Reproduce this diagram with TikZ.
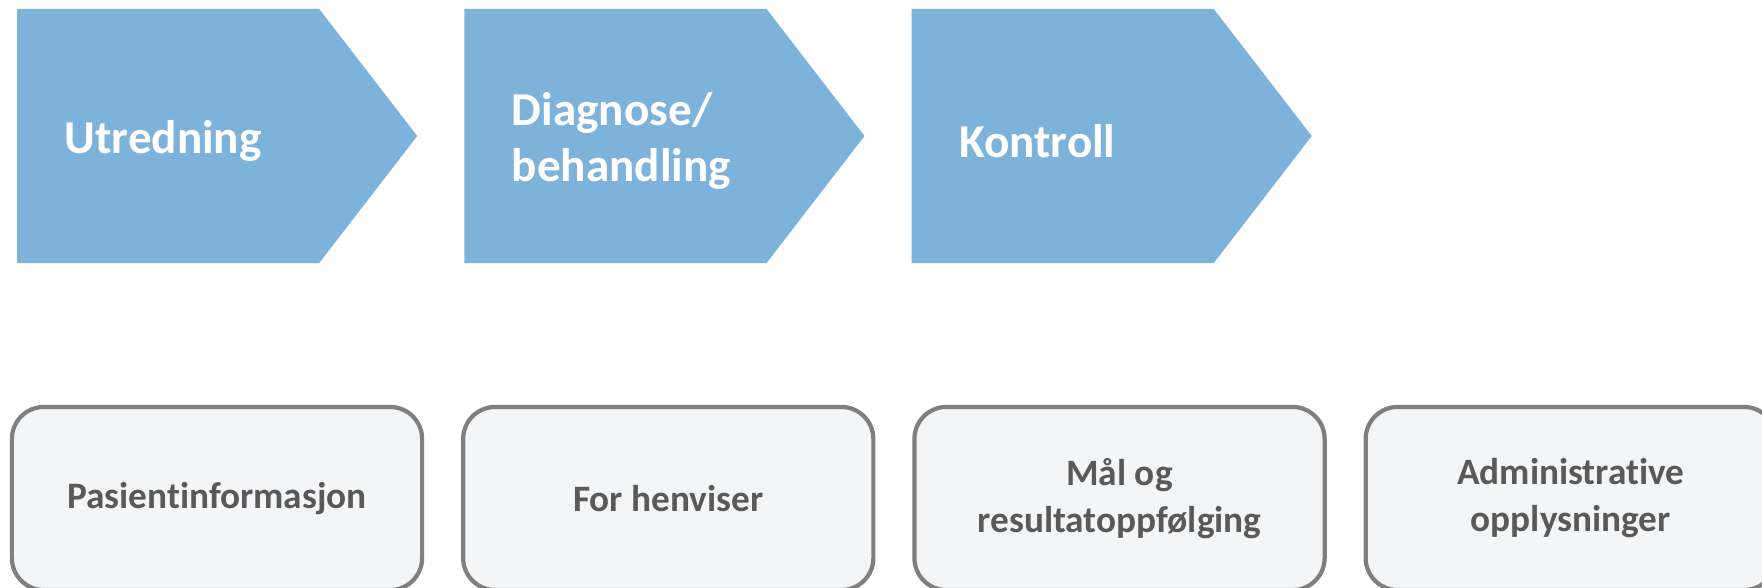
\documentclass[tikz,border=0pt]{standalone}
\usepackage{fontspec}
\setmainfont{Carlito}[Ligatures=NoCommon]
\usetikzlibrary{shapes.symbols,positioning}
\definecolor{phaseblue}{RGB}{125,178,219}
\definecolor{boxgray}{RGB}{127,127,127}
\definecolor{boxfill}{RGB}{244,245,247}
\definecolor{infotext}{RGB}{89,89,89}

\begin{document}
\begin{tikzpicture}[x=0.01cm,y=-0.01cm,node distance=0.47cm,
  phase node/.style={signal,signal to=east,signal from=nowhere,signal pointer angle=104.7,
    fill=phaseblue,minimum width=4cm,minimum height=2.54cm,inner sep=0pt,outer sep=0pt},
  phase text/.style={text=white,inner sep=0pt,align=left,yshift=-0.05cm,
    font=\fontsize{13.4}{16}\selectfont\bfseries},
  info node/.style={rectangle,rounded corners=0.32cm,draw=boxgray,line width=1.2pt,fill=boxfill,
    minimum width=4.1cm,minimum height=1.83cm,outer sep=0pt,text=infotext,align=center,
    font=\fontsize{10.6}{13.4}\selectfont\bfseries}]

  \useasboundingbox (0,0) rectangle (1762,588);

  % phases
  \node[phase node,anchor=west] (u) at (17,136) {};
  \node[phase node,right=of u] (d) {};
  \node[phase node,right=of d] (k) {};

  \node[phase text,right=of u.west] (ut) {Utredning};
  \node[phase text,right=of d.west] (dt) {Diagnose/\\behandling};
  \node[phase text,right=of k.west] (kt) {Kontroll};

  % information boxes
  \node[info node] (p) at (217,498.5) {Pasientinformasjon};
  \node[info node,right=0.41cm of p] (h) {For henviser};
  \node[info node,right=0.41cm of h] (m) {Mål og\\resultatoppfølging};
  \node[info node,right=0.41cm of m] (a) {Administrative\\opplysninger};
\end{tikzpicture}
\end{document}
